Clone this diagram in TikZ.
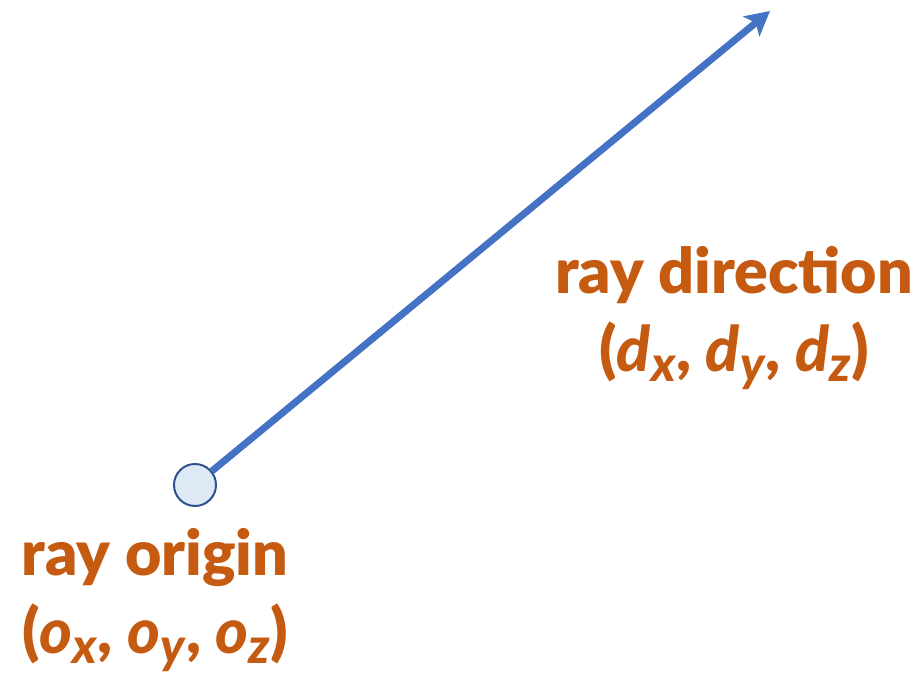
\documentclass[tikz,border=0pt]{standalone}
\usepackage{fontspec}
\setmainfont{Lato}[BoldFont={Lato Black}, BoldItalicFont={Lato Black Italic}]
\usetikzlibrary{arrows.meta,positioning}
\definecolor{rayblue}{RGB}{68,114,196}
\definecolor{dotfill}{RGB}{222,233,246}
\definecolor{dotdraw}{RGB}{47,82,143}
\definecolor{labelorange}{RGB}{197,90,17}
\newcommand{\vsub}[2]{\textit{#1}\raisebox{-0.16em}{\fontsize{37pt}{37pt}\selectfont\textit{#2}}}
\tikzset{
  dot/.style={circle, draw=dotdraw, line width=1.5pt, fill=dotfill,
              minimum size=31.5pt, inner sep=0pt},
  ray/.style={-{Stealth[length=18pt, width=19pt, inset=4pt]}, line width=5.25pt, rayblue},
  raylabel/.style={text=labelorange, align=center, font=\bfseries\fontsize{47pt}{59pt}\selectfont},
}
\begin{document}
\begin{tikzpicture}[x=0.75pt, y=-0.75pt]
\useasboundingbox (0,0) rectangle (920,681);
\node[dot] (org) at (195,485) {};
\coordinate (tip) at (770,11);
\node[raylabel] (orglabel) at (155,600) {ray origin\\(\vsub{o}{x}, \vsub{o}{y}, \vsub{o}{z})};
\node[raylabel] (dirlabel) at (734,318) {ray direction\\(\vsub{d}{x}, \vsub{d}{y}, \vsub{d}{z})};
\draw[ray] (org) -- (tip);
\end{tikzpicture}
\end{document}
